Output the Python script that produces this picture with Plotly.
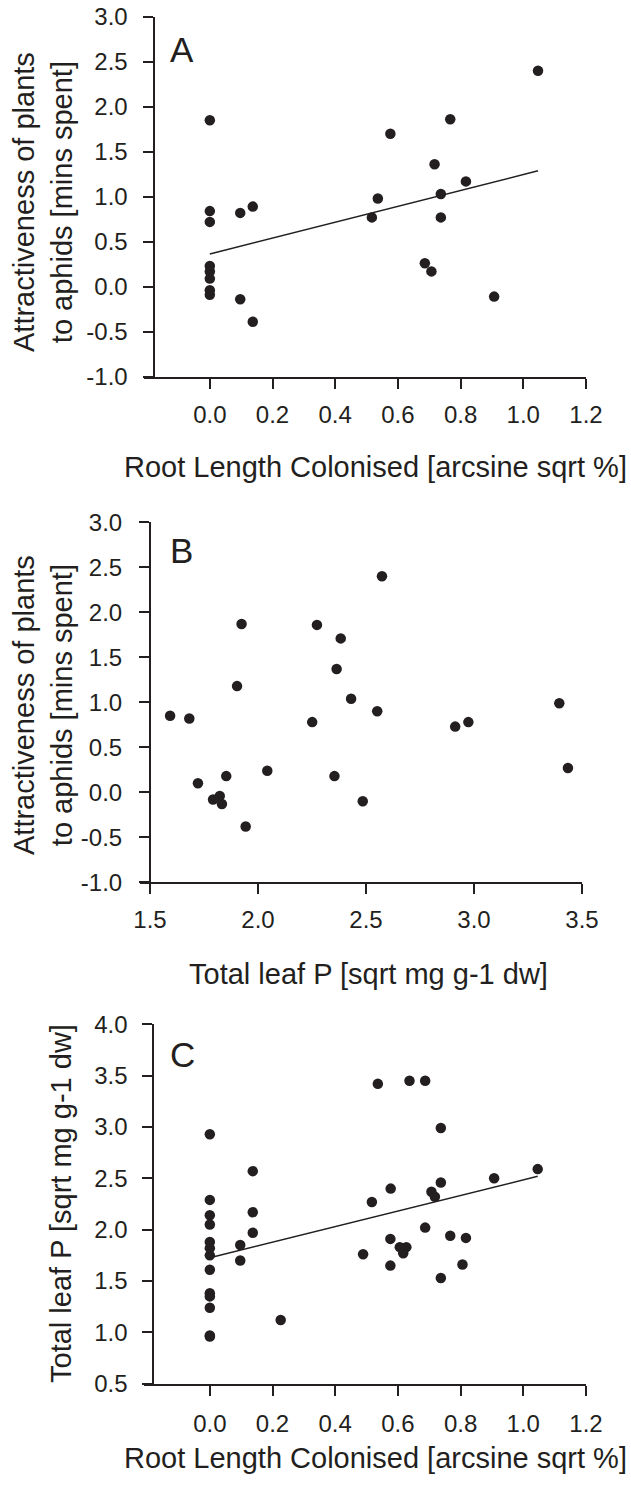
import plotly.graph_objects as go

W, H = 631, 1487
INK = "#231f20"
FONT = "Liberation Sans, Arial, sans-serif"

# ---------------- data ----------------
A_x = [0, 1.047, 0.767, 0.576, 0.717, 0.817, 0.737, 0.536, 0.517, 0.737, 0, 0,
       0.097, 0.137, 0.686, 0.707, 0.907, 0, 0, 0, 0, 0, 0.097, 0.137]
A_y = [1.85, 2.40, 1.86, 1.70, 1.36, 1.17, 1.03, 0.98, 0.77, 0.77, 0.84, 0.72,
       0.82, 0.89, 0.26, 0.17, -0.11, 0.23, 0.17, 0.09, -0.04, -0.09, -0.14, -0.39]
A_fit = (0.363, 0.883)   # intercept, slope

B_x = [2.574, 1.924, 2.273, 2.383, 2.364, 1.903, 2.431, 3.395, 1.593, 1.682, 2.552, 2.251,
       2.974, 2.913, 3.435, 2.043, 1.853, 2.354, 1.722, 1.823, 1.792, 1.833, 2.485, 1.943]
B_y = [2.40, 1.87, 1.86, 1.71, 1.37, 1.18, 1.04, 0.99, 0.85, 0.82, 0.90, 0.78,
       0.78, 0.73, 0.27, 0.24, 0.18, 0.18, 0.10, -0.04, -0.08, -0.13, -0.10, -0.38]

C_x = [0.536, 0.637, 0.687, 0.737, 0, 1.046, 0.907, 0.137, 0.737, 0.577, 0.707, 0.718,
       0.517, 0, 0, 0, 0.137, 0.137, 0.687, 0.767, 0.817, 0.576, 0.606, 0.627, 0.617,
       0, 0, 0, 0.097, 0.097, 0.489, 0.576, 0.806, 0.737, 0, 0, 0, 0, 0.226, 0, 0]
C_y = [3.42, 3.45, 3.45, 2.99, 2.93, 2.59, 2.50, 2.57, 2.46, 2.40, 2.37, 2.32,
       2.27, 2.29, 2.14, 2.05, 2.17, 1.97, 2.02, 1.94, 1.92, 1.91, 1.83, 1.83, 1.77,
       1.88, 1.82, 1.75, 1.85, 1.70, 1.76, 1.65, 1.66, 1.53, 1.61, 1.38, 1.35, 1.24, 1.12, 0.97, 0.96]
C_fit = (1.727, 0.758)

# tick values / labels
x_root_ticks = [0.0, 0.2, 0.4, 0.6, 0.8, 1.0, 1.2]
x_root_labels = ["0.0", "0.2", "0.4", "0.6", "0.8", "1.0", "1.2"]
x_leafP_ticks = [1.5, 2.0, 2.5, 3.0, 3.5]
x_leafP_labels = ["1.5", "2.0", "2.5", "3.0", "3.5"]
y_attr_ticks = [-1.0, -0.5, 0.0, 0.5, 1.0, 1.5, 2.0, 2.5, 3.0]
y_attr_labels = ["-1.0", "-0.5", "0.0", "0.5", "1.0", "1.5", "2.0", "2.5", "3.0"]
y_leafP_ticks = [0.5, 1.0, 1.5, 2.0, 2.5, 3.0, 3.5, 4.0]
y_leafP_labels = ["0.5", "1.0", "1.5", "2.0", "2.5", "3.0", "3.5", "4.0"]

x_title_root = "Root Length Colonised [arcsine sqrt %]"
x_title_leafP = "Total leaf P [sqrt mg g-1 dw]"
y_title_attr = "Attractiveness of plants<br>to aphids [mins spent]"
y_title_leafP = "Total leaf P [sqrt mg g-1 dw]"
panel_letters = ["A", "B", "C"]


def px(x):
    return x / W


def py(y):
    return 1 - y / H


fig = go.Figure()


def scatter(xs, ys, xa, ya):
    fig.add_trace(go.Scatter(x=xs, y=ys, mode="markers", xaxis=xa, yaxis=ya,
                             marker=dict(size=10.5, color=INK, line=dict(width=0)),
                             showlegend=False, hoverinfo="skip"))


def fitline(xs, fit, xa, ya):
    x0, x1 = min(xs), max(xs)
    fig.add_trace(go.Scatter(x=[x0, x1], y=[fit[0] + fit[1] * x0, fit[0] + fit[1] * x1],
                             mode="lines", xaxis=xa, yaxis=ya,
                             line=dict(color=INK, width=1.5),
                             showlegend=False, hoverinfo="skip"))


scatter(A_x, A_y, "x", "y")
fitline(A_x, A_fit, "x", "y")
scatter(B_x, B_y, "x2", "y2")
scatter(C_x, C_y, "x3", "y3")
fitline(C_x, C_fit, "x3", "y3")

tickfont = dict(family=FONT, size=24, color=INK)
common = dict(showgrid=False, zeroline=False, showline=True, linecolor=INK, linewidth=2,
              ticks="outside", ticklen=10, tickwidth=2, tickcolor=INK,
              tickfont=tickfont, tickmode="array", automargin=False,
              ticklabeloverflow="allow")

eps = 1e-4
layout = dict(
    template="none",
    width=W, height=H, margin=dict(l=0, r=0, t=0, b=0, pad=0, autoexpand=False),
    paper_bgcolor="white", plot_bgcolor="white", showlegend=False,
    xaxis=dict(common, domain=[px(144), px(586)], range=[-0.21, 1.2 + eps],
               tickvals=x_root_ticks, ticktext=x_root_labels, anchor="y", ticklabelstandoff=5),
    yaxis=dict(common, domain=[py(376.7), py(16.7)], range=[-1 - eps, 3 + eps],
               tickvals=y_attr_ticks, ticktext=y_attr_labels,
               anchor="free", position=px(153.5), ticklabelstandoff=10),
    xaxis2=dict(common, domain=[px(140), px(582)], range=[1.5 - 10 / 216, 3.5 + eps],
                tickvals=x_leafP_ticks, ticktext=x_leafP_labels, anchor="y2", ticklabelstandoff=5),
    yaxis2=dict(common, domain=[py(882.3), py(522.3)], range=[-1 - eps, 3 + eps],
                tickvals=y_attr_ticks, ticktext=y_attr_labels,
                anchor="free", position=px(150), ticklabelstandoff=12),
    xaxis3=dict(common, domain=[px(144), px(586)], range=[-0.21, 1.2 + eps],
                tickvals=x_root_ticks, ticktext=x_root_labels, anchor="y3", ticklabelstandoff=7),
    yaxis3=dict(common, domain=[py(1383.7), py(1024.3)], range=[0.5 - eps, 4.0 + eps],
                tickvals=y_leafP_ticks, ticktext=y_leafP_labels,
                anchor="free", position=px(153.3), ticklabelstandoff=10),
)
fig.update_layout(**layout)

titlefont = dict(family=FONT, size=29, color=INK)
ann = []
# x titles
ann.append(dict(text=x_title_root, x=px(375), y=py(467), xanchor="center", yanchor="middle",
                font=titlefont))
ann.append(dict(text=x_title_leafP, x=px(368), y=py(974), xanchor="center", yanchor="middle",
                font=titlefont))
ann.append(dict(text=x_title_root, x=px(375), y=py(1458), xanchor="center", yanchor="middle",
                font=titlefont))
# y titles
ann.append(dict(text=y_title_attr, x=px(43), y=py(202), xanchor="center", yanchor="middle",
                textangle=-90, font=titlefont))
ann.append(dict(text=y_title_attr, x=px(43), y=py(705), xanchor="center", yanchor="middle",
                textangle=-90, font=titlefont))
ann.append(dict(text=y_title_leafP, x=px(61), y=py(1204), xanchor="center", yanchor="middle",
                textangle=-90, font=titlefont))
# panel letters
for letter, cy in zip(panel_letters, [49.5, 550.5, 1054]):
    ann.append(dict(text=letter, x=px(168), y=py(cy), xanchor="left", yanchor="middle",
                    font=dict(family=FONT, size=35, color=INK)))
for a in ann:
    a.update(xref="paper", yref="paper", showarrow=False)
fig.update_layout(annotations=ann)

# remove the browser's default page margin so the figure sits at the page origin
fig.write_html("out.html",
               config={"displayModeBar": False, "staticPlot": True},
               post_script="document.body.style.margin='0';document.body.style.overflow='hidden';")
